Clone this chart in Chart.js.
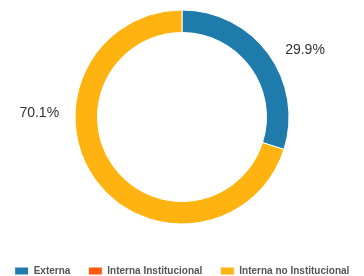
<!DOCTYPE html>
<html>
<head>
<meta charset="utf-8">
<script src="https://cdn.jsdelivr.net/npm/chart.js@4.4.0/dist/chart.umd.min.js"></script>
<style>
  html, body { margin: 0; padding: 0; background: #fff; }
  #wrap { width: 364px; height: 276px; }
</style>
</head>
<body>
<div id="wrap"><canvas id="chart" width="364" height="276"></canvas></div>
<script>
const categories = ['Externa', 'Interna Institucional', 'Interna no Institucional'];
const shares = [29.9, 0, 70.1];
const colors = ['#1f7bab', '#ff5a0f', '#ffb311'];
// where the percentage text sits, degrees clockwise from the top
const labelAngles = [57, null, 272];

const percentLabels = {
  id: 'percentLabels',
  afterDatasetsDraw(chart) {
    const ctx = chart.ctx;
    const arcs = chart.getDatasetMeta(0).data;
    ctx.save();
    ctx.font = '14px "Liberation Sans", Arial, sans-serif';
    ctx.fillStyle = '#333';
    ctx.textBaseline = 'middle';
    arcs.forEach((arc, i) => {
      if (!shares[i] || labelAngles[i] == null) return;
      const a = labelAngles[i] * Math.PI / 180;
      const r = arc.outerRadius + 16;
      ctx.textAlign = Math.sin(a) >= 0 ? 'left' : 'right';
      ctx.fillText(shares[i].toFixed(1) + '%', arc.x + r * Math.sin(a), arc.y - r * Math.cos(a));
    });
    ctx.restore();
  }
};

// drop the legend's extra 10px so it sits on the bottom edge
const legendFit = {
  id: 'legendFit',
  beforeInit(chart) {
    const fit = chart.legend.fit;
    chart.legend.fit = function () {
      fit.call(this);
      this.height -= 10;
    };
  }
};

new Chart(document.getElementById('chart').getContext('2d'), {
  type: 'doughnut',
  data: {
    labels: categories,
    datasets: [{
      data: shares,
      backgroundColor: colors,
      borderColor: '#fff',
      borderWidth: 1,
    }],
  },
  options: {
    responsive: false,
    animation: false,
    radius: 107,
    cutout: 92,
    layout: { padding: { top: 0, bottom: 0, left: -8, right: -8 } },
    plugins: {
      legend: {
        position: 'bottom',
        title: { display: true, text: ' ', font: { size: 10 }, padding: 1 },
        labels: {
          boxWidth: 14,
          boxHeight: 8,
          padding: 18,
          color: '#555',
          font: { family: '"Liberation Sans", Arial, sans-serif', size: 10, weight: 'bold' },
        },
      },
      tooltip: { enabled: false },
    },
  },
  plugins: [percentLabels, legendFit],
});
</script>
</body>
</html>
